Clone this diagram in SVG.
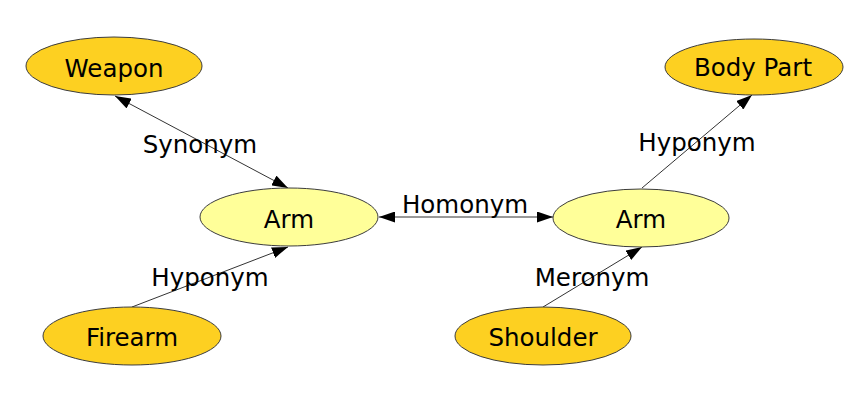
<svg xmlns="http://www.w3.org/2000/svg" width="862" height="418" viewBox="0 0 862 418">
<style>
  .dark { fill: #FDD021; stroke: #3c3c3c; stroke-width: 1; }
  .light { fill: #FFFF99; stroke: #3c3c3c; stroke-width: 1; }
  text { font-family: "DejaVu Sans", Verdana, sans-serif; font-size: 24.5px; fill: #000; text-anchor: middle; }
  .edge { stroke: #333; stroke-width: 1; fill: none; }
</style>
<defs>
  <marker id="ah" viewBox="0 0 16 11" refX="16" refY="5.5" markerWidth="16" markerHeight="11" markerUnits="userSpaceOnUse" orient="auto-start-reverse">
    <path d="M0,0 L16,5.5 L0,11 Z" fill="#000"/>
  </marker>
</defs>
<rect width="862" height="418" fill="#fff"/>
<g id="connectors">
  <line class="edge" x1="115" y1="96" x2="288" y2="188" marker-start="url(#ah)" marker-end="url(#ah)"/>
  <line class="edge" x1="379" y1="217" x2="553" y2="217" marker-start="url(#ah)" marker-end="url(#ah)"/>
  <line class="edge" x1="642" y1="188" x2="752" y2="95" marker-end="url(#ah)"/>
  <line class="edge" x1="132" y1="307" x2="288" y2="247" marker-end="url(#ah)"/>
  <line class="edge" x1="543" y1="307" x2="642" y2="247" marker-end="url(#ah)"/>
  <text x="200" y="153">Synonym</text>
  <text x="465" y="213">Homonym</text>
  <text x="697" y="151">Hyponym</text>
  <text x="210" y="286">Hyponym</text>
  <text x="592" y="286">Meronym</text>
</g>
<g id="weapon">
  <ellipse class="dark" cx="114" cy="66" rx="88" ry="29"/>
  <text x="114" y="77">Weapon</text>
</g>
<g id="body-part">
  <ellipse class="dark" cx="754" cy="67" rx="89" ry="28"/>
  <text x="753" y="76">Body Part</text>
</g>
<g id="arm-left">
  <ellipse class="light" cx="289" cy="217" rx="89" ry="29"/>
  <text x="289" y="228">Arm</text>
</g>
<g id="arm-right">
  <ellipse class="light" cx="641" cy="218" rx="88" ry="29"/>
  <text x="641" y="228">Arm</text>
</g>
<g id="firearm">
  <ellipse class="dark" cx="132" cy="336" rx="89" ry="29"/>
  <text x="132" y="346">Firearm</text>
</g>
<g id="shoulder">
  <ellipse class="dark" cx="543" cy="336" rx="88" ry="29"/>
  <text x="543" y="346">Shoulder</text>
</g>
</svg>
